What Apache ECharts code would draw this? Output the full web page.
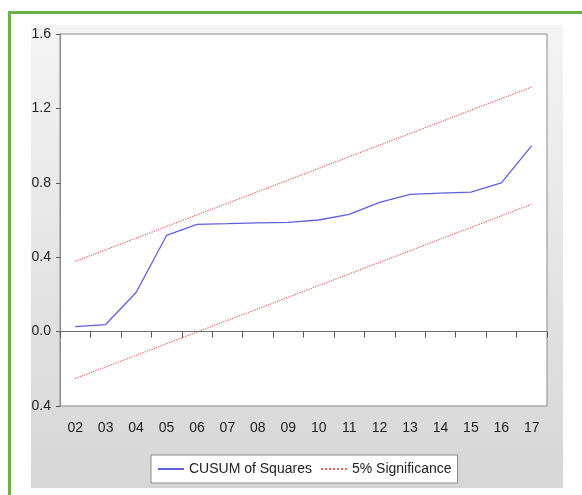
<!DOCTYPE html>
<html>
<head>
<meta charset="utf-8">
<script src="https://cdn.jsdelivr.net/npm/echarts@6/dist/echarts.min.js"></script>
<style>
html,body{margin:0;padding:0;background:#fff;}
#chart{width:582px;height:495px;}
</style>
</head>
<body>
<div id="chart"></div>
<script>
var categories = ["02","03","04","05","06","07","08","09","10","11","12","13","14","15","16","17"];
var cusumSq = [0.027,0.038,0.21,0.517,0.577,0.58,0.585,0.587,0.60,0.63,0.695,0.738,0.745,0.75,0.80,1.0];
var upper5 = [0.3775,0.44,0.5025,0.565,0.6275,0.69,0.7525,0.815,0.8775,0.94,1.0025,1.065,1.1275,1.19,1.2525,1.315];
var lower5 = [-0.2525,-0.19,-0.1275,-0.065,-0.0025,0.06,0.1225,0.185,0.2475,0.31,0.3725,0.435,0.4975,0.56,0.6225,0.685];
var yTickLabels = ["0.4","0.0","0.4","0.8","1.2","1.6"];

var chart = echarts.init(document.getElementById('chart'), null, {renderer:'canvas'});
var font = 'Liberation Sans, Arial, sans-serif';
chart.setOption({
  animation:false,
  backgroundColor:'#ffffff',
  textStyle:{fontFamily:font},
  graphic:[
    {type:'rect', z:-100, silent:true, shape:{x:9.5,y:12.5,width:620,height:520},
     style:{fill:'#ffffff', stroke:'#6bb04a', lineWidth:3}},
    {type:'rect', z:-99, silent:true, shape:{x:31,y:25,width:532,height:463},
     style:{fill:new echarts.graphic.LinearGradient(0,0,0,1,[{offset:0,color:'#f4f4f4'},{offset:1,color:'#d6d6d6'}])}}
  ],
  grid:{left:60, top:34, right:35, bottom:89, show:true, backgroundColor:'#ffffff', borderColor:'#8a8a8a', borderWidth:1},
  legend:{
    left:151, top:455, padding:[7,6], itemGap:8, itemWidth:26, itemHeight:14,
    backgroundColor:'#ffffff', borderColor:'#8a8a8a', borderWidth:1, borderRadius:0,
    itemStyle:{opacity:0, color:'transparent', borderColor:'transparent', borderWidth:0},
    textStyle:{fontFamily:font, fontSize:14, color:'#222'},
    data:['CUSUM of Squares','5% Significance']
  },
  xAxis:{
    type:'category', data:categories, boundaryGap:true,
    axisLine:{lineStyle:{color:'#8a8a8a'}},
    axisTick:{show:true, inside:false, length:6, alignWithLabel:false, lineStyle:{color:'#555'}},
    axisLabel:{fontFamily:font, fontSize:14, color:'#222', margin:15, interval:0},
    splitLine:{show:false}
  },
  yAxis:{
    type:'value', min:-0.4, max:1.6, interval:0.4,
    axisLine:{show:true, lineStyle:{color:'#8a8a8a'}},
    axisTick:{show:true, length:4, lineStyle:{color:'#555'}},
    axisLabel:{fontFamily:font, fontSize:14, color:'#222', margin:9,
      formatter:function(v){ return yTickLabels[Math.round((v+0.4)/0.4)]; }},
    splitLine:{show:false}
  },
  series:[
    {name:'CUSUM of Squares', type:'line', data:cusumSq, symbol:'none', smooth:false,
     lineStyle:{color:'#6060dc', width:1.3}, itemStyle:{color:'#6060dc'},
     markLine:{silent:true, symbol:'none', label:{show:false},
       lineStyle:{color:'#707070', type:'solid', width:1}, data:[{yAxis:0}]}},
    {name:'5% Significance', type:'line', data:upper5, symbol:'none',
     lineStyle:{color:'#e8605a', width:1.2, type:'dotted'}, itemStyle:{color:'#e8605a'}},
    {name:'5% Significance', type:'line', data:lower5, symbol:'none',
     lineStyle:{color:'#e8605a', width:1.2, type:'dotted'}, itemStyle:{color:'#e8605a'}}
  ]
});
</script>
</body>
</html>
